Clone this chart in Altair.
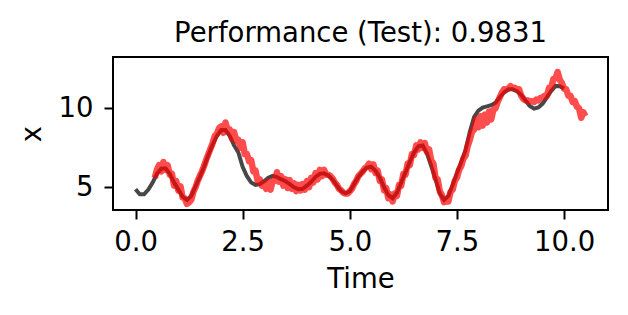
import altair as alt
import numpy as np
import pandas as pd

# True signal (black), t = 0.0 .. 10.0 step 0.1
true_t = [round(0.1 * i, 2) for i in range(101)]
true_y = [
    4.87, 4.55, 4.55, 4.85, 5.30, 5.85, 6.18, 6.20, 5.85, 5.30,
    4.85, 4.40, 4.20, 4.45, 5.05, 5.65, 6.30, 7.05, 7.70, 8.25,
    8.62, 8.62, 8.25, 7.65, 7.20, 6.30, 5.70, 5.30, 5.15, 5.20,
    5.38, 5.60, 5.72, 5.65, 5.50, 5.38, 5.20, 5.00, 4.88, 4.90,
    5.10, 5.35, 5.65, 5.85, 5.88, 5.75, 5.48, 5.10, 4.75, 4.62,
    4.75, 5.20, 5.65, 6.00, 6.25, 6.30, 6.05, 5.60, 5.00, 4.50,
    4.30, 4.65, 5.30, 5.95, 6.60, 7.20, 7.60, 7.65, 7.15, 6.35,
    5.50, 4.60, 4.20, 4.45, 5.15, 5.90, 6.60, 7.35, 8.50, 9.45,
    9.85, 10.05, 10.12, 10.20, 10.35, 10.70, 11.00, 11.20, 11.20, 11.08,
    10.85, 10.50, 10.15, 9.98, 10.05, 10.30, 10.70, 11.10, 11.42, 11.40,
    11.25,
]

# Prediction (red), t = 0.45 .. 10.50 step 0.05
pred_t = [round(0.45 + 0.05 * i, 2) for i in range(202)]
pred_y = [
    5.60, 6.10, 6.40, 6.00, 6.60, 6.10, 6.40, 5.80, 5.85, 5.10,
    5.40, 4.80, 5.05, 4.35, 4.30, 3.95, 4.05, 4.20, 4.70, 5.00,
    5.40, 5.70, 6.00, 6.35, 6.75, 7.10, 7.45, 7.80, 8.25, 8.40,
    8.75, 8.85, 8.45, 9.10, 8.60, 8.65, 8.10, 8.50, 7.95, 8.00,
    7.50, 7.85, 7.10, 7.10, 6.65, 6.70, 6.00, 6.05, 5.40, 5.50,
    5.10, 5.20, 4.90, 5.35, 4.85, 5.40, 5.40, 5.95, 5.35, 5.70,
    5.10, 5.50, 4.95, 5.45, 4.90, 5.25, 4.75, 5.15, 4.80, 5.20,
    4.85, 5.40, 5.00, 5.60, 5.30, 5.90, 5.50, 6.10, 5.70, 6.10,
    5.80, 5.80, 5.70, 5.55, 5.30, 5.15, 4.90, 4.80, 4.65, 4.60,
    4.60, 4.75, 4.90, 5.20, 5.40, 5.70, 5.85, 6.00, 6.20, 6.30,
    6.50, 6.15, 6.45, 5.90, 6.05, 5.40, 5.50, 4.80, 4.95, 4.30,
    4.55, 4.10, 4.60, 4.45, 5.15, 5.10, 5.85, 5.80, 6.50, 6.40,
    7.10, 7.05, 7.65, 7.40, 7.85, 7.50, 7.80, 7.25, 7.40, 6.70,
    6.50, 5.60, 5.50, 4.75, 4.50, 4.05, 4.10, 4.10, 4.70, 4.85,
    5.40, 5.60, 6.10, 6.35, 6.80, 7.00, 7.60, 8.00, 8.50, 8.65,
    9.30, 8.80, 9.50, 8.90, 9.60, 9.10, 9.80, 9.30, 9.90, 10.00,
    10.40, 10.70, 11.00, 11.20, 11.20, 11.25, 11.40, 11.30, 11.30, 11.20,
    11.20, 10.80, 10.60, 10.50, 10.50, 10.45, 10.45, 10.40, 10.55, 10.50,
    10.65, 10.70, 10.80, 10.80, 11.30, 11.30, 11.85, 11.90, 12.30, 11.80,
    11.60, 11.25, 11.20, 10.80, 10.80, 10.40, 10.45, 10.10, 10.00, 9.40,
    9.75, 9.50,
]

x_ticks = [0, 2.5, 5, 7.5, 10]
y_ticks = [5, 10]
title_text = "Performance (Test): 0.9831"

FONT = "DejaVu Sans"
FS = 27.5

df_true = pd.DataFrame({"t": true_t, "y": true_y})
df_pred = pd.DataFrame({"t": pred_t, "y": pred_y})

xscale = alt.Scale(domain=[-0.525, 11.025], nice=False, zero=False)
yscale = alt.Scale(domain=[3.56, 13.25], nice=False, zero=False)

xaxis = alt.Axis(values=x_ticks, format=".1f", title="Time", grid=False,
                 domain=False, tickSize=9, tickWidth=2, tickColor="black",
                 labelFont=FONT, labelFontSize=FS, labelColor="black",
                 labelPadding=9, titleFont=FONT, titleFontSize=FS,
                 titleFontWeight="normal", titleColor="black", titlePadding=10,
                 labelFlush=False)
yaxis = alt.Axis(values=y_ticks, format="d", title="x", grid=False,
                 domain=False, tickSize=9, tickWidth=2, tickColor="black",
                 labelFont=FONT, labelFontSize=FS, labelColor="black",
                 labelPadding=11, titleFont=FONT, titleFontSize=FS,
                 titleFontWeight="normal", titleColor="black",
                 titleX=-73, titleY=76.5, titleAngle=270, titleAlign="center",
                 titleBaseline="alphabetic", labelFlush=False)

true_line = alt.Chart(df_true).mark_line(
    color="black", opacity=0.72, strokeWidth=4, clip=True
).encode(
    x=alt.X("t:Q", scale=xscale, axis=xaxis),
    y=alt.Y("y:Q", scale=yscale, axis=yaxis),
)

pred_line = alt.Chart(df_pred).mark_line(
    color="red", opacity=0.7, strokeWidth=6.5, clip=True, strokeJoin="round"
).encode(
    x=alt.X("t:Q", scale=xscale),
    y=alt.Y("y:Q", scale=yscale),
)

chart = alt.layer(true_line, pred_line).properties(
    width=495,
    height=153,
    title=alt.TitleParams(title_text, font=FONT, fontSize=FS,
                          fontWeight="normal", color="black", anchor="middle",
                          baseline="alphabetic", offset=15, dy=27),
    autosize=alt.AutoSizeParams(type="none"),
    padding={"left": 105, "top": 49, "right": 12, "bottom": 90},
).configure_view(stroke="black", strokeWidth=2)

chart.save("out.html", embed_options={"renderer": "svg", "actions": False})
